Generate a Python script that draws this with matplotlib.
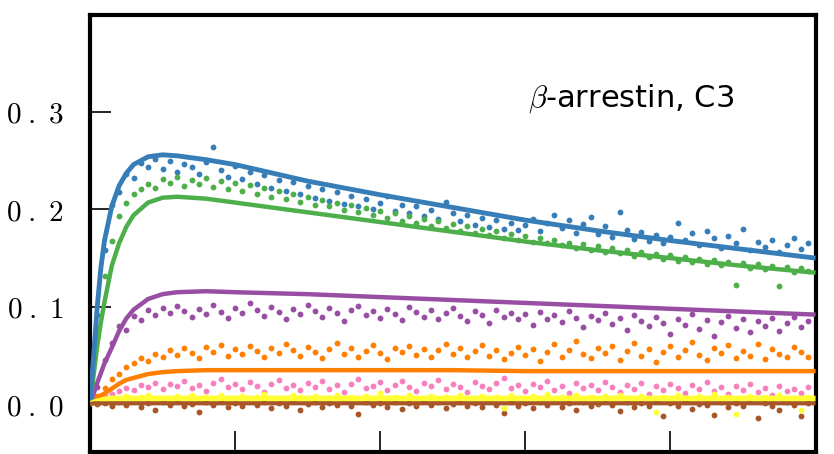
import numpy as np
import matplotlib.pyplot as plt

plt.rcParams['mathtext.fontset'] = 'cm'

# sample times of the measured points (regular sampling)
t = np.arange(1, 100) * 0.05

blue_pts = [0.092, 0.158, 0.205, 0.218, 0.236, 0.232, 0.248, 0.244, 0.252, 0.241,
            0.250, 0.238, 0.247, 0.244, 0.236, 0.249, 0.264, 0.240, 0.233, 0.245,
            0.231, 0.238, 0.226, 0.235, 0.222, 0.230, 0.219, 0.228, 0.216, 0.224,
            0.212, 0.221, 0.209, 0.218, 0.206, 0.214, 0.203, 0.211, 0.200, 0.207,
            0.214, 0.198, 0.205, 0.196, 0.203, 0.193, 0.199, 0.190, 0.208, 0.196,
            0.188, 0.194, 0.184, 0.191, 0.182, 0.189, 0.180, 0.186, 0.179, 0.184,
            0.190, 0.178, 0.186, 0.194, 0.181, 0.189, 0.176, 0.185, 0.192, 0.175,
            0.183, 0.172, 0.197, 0.179, 0.170, 0.177, 0.168, 0.174, 0.166, 0.172,
            0.186, 0.169, 0.176, 0.163, 0.178, 0.171, 0.160, 0.173, 0.165, 0.180,
            0.158, 0.167, 0.161, 0.169, 0.156, 0.163, 0.171, 0.159, 0.166]
green_pts = [0.068, 0.132, 0.168, 0.193, 0.207, 0.216, 0.221, 0.226, 0.222, 0.231,
             0.227, 0.233, 0.224, 0.230, 0.226, 0.232, 0.223, 0.229, 0.221, 0.227,
             0.219, 0.225, 0.216, 0.222, 0.213, 0.219, 0.211, 0.216, 0.208, 0.213,
             0.205, 0.210, 0.203, 0.207, 0.199, 0.204, 0.197, 0.201, 0.194, 0.198,
             0.191, 0.196, 0.188, 0.193, 0.186, 0.190, 0.183, 0.188, 0.181, 0.185,
             0.178, 0.183, 0.176, 0.180, 0.174, 0.178, 0.171, 0.175, 0.169, 0.173,
             0.167, 0.171, 0.165, 0.169, 0.163, 0.166, 0.160, 0.164, 0.158, 0.162,
             0.156, 0.160, 0.155, 0.158, 0.152, 0.156, 0.151, 0.154, 0.149, 0.153,
             0.147, 0.151, 0.146, 0.149, 0.144, 0.148, 0.143, 0.146, 0.122, 0.145,
             0.140, 0.144, 0.139, 0.142, 0.121, 0.141, 0.136, 0.140, 0.137]
purple_pts = [0.018, 0.045, 0.063, 0.080, 0.076, 0.091, 0.086, 0.097, 0.092, 0.099,
              0.094, 0.101, 0.096, 0.090, 0.098, 0.093, 0.102, 0.095, 0.089, 0.099,
              0.094, 0.104, 0.097, 0.091, 0.100, 0.095, 0.088, 0.098, 0.093, 0.102,
              0.096, 0.090, 0.099, 0.094, 0.085, 0.097, 0.101, 0.092, 0.096, 0.089,
              0.098, 0.093, 0.086, 0.100, 0.095, 0.090, 0.097, 0.088, 0.094, 0.099,
              0.091, 0.085, 0.096, 0.092, 0.083, 0.097, 0.090, 0.094, 0.087, 0.093,
              0.081, 0.095, 0.088, 0.092, 0.084, 0.096, 0.089, 0.079, 0.091, 0.086,
              0.094, 0.082, 0.089, 0.076, 0.092, 0.085, 0.080, 0.090, 0.083, 0.072,
              0.088, 0.081, 0.093, 0.077, 0.086, 0.070, 0.084, 0.091, 0.078, 0.087,
              0.074, 0.085, 0.080, 0.089, 0.075, 0.083, 0.090, 0.079, 0.085]
orange_pts = [0.008, 0.017, 0.026, 0.031, 0.038, 0.042, 0.047, 0.044, 0.052, 0.049,
              0.056, 0.051, 0.058, 0.053, 0.047, 0.059, 0.054, 0.061, 0.050, 0.057,
              0.052, 0.060, 0.055, 0.048, 0.058, 0.053, 0.062, 0.056, 0.050, 0.059,
              0.054, 0.047, 0.057, 0.063, 0.052, 0.058, 0.049, 0.055, 0.061, 0.053,
              0.046, 0.058, 0.054, 0.060, 0.051, 0.057, 0.049, 0.056, 0.062, 0.052,
              0.058, 0.048, 0.055, 0.061, 0.050, 0.056, 0.046, 0.053, 0.059, 0.051,
              0.057, 0.044, 0.054, 0.062, 0.049, 0.056, 0.065, 0.052, 0.047, 0.058,
              0.053, 0.060, 0.045, 0.055, 0.063, 0.050, 0.057, 0.043, 0.054, 0.060,
              0.048, 0.056, 0.064, 0.051, 0.045, 0.058, 0.053, 0.061, 0.047, 0.055,
              0.050, 0.062, 0.046, 0.057, 0.052, 0.049, 0.059, 0.054, 0.048]
pink_pts = [0.004, 0.008, 0.011, 0.014, 0.017, 0.015, 0.020, 0.018, 0.022, 0.016,
            0.021, 0.019, 0.024, 0.017, 0.020, 0.014, 0.022, 0.026, 0.018, 0.021,
            0.016, 0.023, 0.019, 0.013, 0.021, 0.025, 0.017, 0.020, 0.015, 0.022,
            0.018, 0.024, 0.016, 0.020, 0.013, 0.021, 0.026, 0.017, 0.019, 0.023,
            0.015, 0.020, 0.024, 0.018, 0.014, 0.022, 0.019, 0.025, 0.016, 0.021,
            0.018, 0.013, 0.023, 0.019, 0.016, 0.022, 0.027, 0.017, 0.020, 0.014,
            0.021, 0.018, 0.024, 0.015, 0.019, 0.012, 0.022, 0.017, 0.020, 0.015,
            0.023, 0.018, 0.013, 0.020, 0.016, 0.022, 0.011, 0.019, 0.015, 0.021,
            0.017, 0.012, 0.020, 0.016, 0.023, 0.014, 0.018, 0.011, 0.019, 0.015,
            0.021, 0.013, 0.017, 0.010, 0.019, 0.014, 0.016, 0.012, 0.018]
yellow_pts = [0.002, 0.004, 0.006, 0.005, 0.008, 0.004, 0.007, 0.009, 0.005, 0.006,
              0.003, 0.008, 0.006, 0.010, 0.004, 0.007, 0.005, 0.009, 0.002, 0.006,
              0.008, 0.004, 0.007, 0.011, 0.005, 0.006, 0.003, 0.009, 0.007, 0.005,
              0.008, 0.004, 0.006, 0.010, 0.003, 0.007, 0.005, 0.008, 0.006, 0.012,
              0.004, 0.007, 0.005, 0.009, 0.002, 0.006, 0.008, 0.004, 0.007, 0.005,
              0.010, 0.006, 0.003, 0.008, 0.005, 0.007, -0.004, 0.009, 0.006, 0.004,
              0.008, 0.005, 0.011, 0.003, 0.007, 0.006, 0.009, 0.004, 0.007, 0.002,
              0.008, 0.005, 0.010, 0.006, 0.003, 0.008, 0.005, -0.008, 0.007, 0.004,
              0.009, 0.006, 0.003, 0.008, 0.005, 0.011, 0.004, 0.007, -0.010, 0.006,
              0.008, 0.003, 0.007, 0.005, 0.009, 0.004, 0.006, -0.006, 0.007]
brown_pts = [0.000, 0.001, -0.002, 0.002, -0.001, 0.003, -0.003, 0.001, -0.006, 0.002,
             -0.001, 0.003, -0.002, 0.000, -0.008, 0.002, -0.001, 0.004, -0.003, 0.001,
             -0.002, 0.003, -0.001, 0.002, -0.004, 0.001, -0.002, 0.003, -0.006, 0.000,
             0.002, -0.003, 0.001, -0.001, 0.003, -0.002, -0.010, 0.002, -0.001, 0.001,
             -0.003, 0.002, -0.005, 0.001, -0.002, 0.003, -0.001, 0.002, -0.004, 0.000,
             0.002, -0.002, 0.001, -0.003, 0.003, -0.001, -0.009, 0.002, -0.002, 0.001,
             -0.004, 0.002, -0.001, 0.003, -0.003, 0.001, -0.006, 0.002, -0.002, 0.000,
             0.003, -0.001, -0.007, 0.002, -0.003, 0.001, -0.002, 0.003, -0.012, 0.001,
             -0.002, 0.002, -0.005, 0.000, -0.001, -0.011, 0.002, -0.003, 0.001, -0.002,
             0.003, -0.014, 0.001, -0.002, -0.006, 0.002, -0.001, -0.012, 0.001]

# fitted model curves
fit_t = [0, 0.025, 0.05, 0.075, 0.1, 0.15, 0.2, 0.25, 0.3, 0.4, 0.5,
         0.6, 0.8, 1.0, 1.5, 2.0, 2.5, 3.0, 3.5, 4.0, 4.5, 5.0]
blue_fit = [0, 0.05, 0.10, 0.14, 0.168, 0.203, 0.224, 0.237, 0.246, 0.254, 0.256,
            0.255, 0.251, 0.246, 0.229, 0.215, 0.202, 0.189, 0.178, 0.168, 0.159, 0.150]
green_fit = [0, 0.03, 0.06, 0.084, 0.105, 0.142, 0.165, 0.182, 0.194, 0.207, 0.212,
             0.213, 0.211, 0.207, 0.197, 0.187, 0.177, 0.167, 0.158, 0.150, 0.142, 0.135]
purple_fit = [0, 0.011, 0.022, 0.032, 0.042, 0.058, 0.075, 0.088, 0.097, 0.108, 0.113,
              0.115, 0.116, 0.115, 0.113, 0.110, 0.107, 0.104, 0.101, 0.098, 0.095, 0.092]
orange_fit = [0, 0.003, 0.006, 0.009, 0.011, 0.016, 0.021, 0.025, 0.027, 0.031, 0.033,
              0.034, 0.035, 0.035, 0.035, 0.035, 0.035, 0.034, 0.034, 0.034, 0.034, 0.034]
yellow_fit = [0, 0.002, 0.003, 0.004, 0.005, 0.006, 0.006, 0.006, 0.006, 0.006, 0.006,
              0.006, 0.006, 0.006, 0.006, 0.006, 0.006, 0.006, 0.006, 0.006, 0.006, 0.006]
brown_fit = [0, 0.001, 0.001, 0.001, 0.001, 0.001, 0.001, 0.001, 0.001, 0.001, 0.001,
             0.001, 0.001, 0.001, 0.001, 0.001, 0.001, 0.001, 0.001, 0.001, 0.001, 0.001]

yticks = [0.0, 0.1, 0.2, 0.3]
ytick_labels = [r'$0\;.\;0$', r'$0\;.\;1$', r'$0\;.\;2$', r'$0\;.\;3$']
xticks = [1, 2, 3, 4]

BLUE, GREEN, PURPLE = '#377eb8', '#4daf4a', '#984ea3'
ORANGE, YELLOW, BROWN, PINK = '#ff7f00', '#ffff33', '#a65628', '#f781bf'

fig = plt.figure(figsize=(8.34, 4.54), dpi=100)
ax = fig.add_axes([0.1079, 0.0044, 0.870, 0.9636])

# measured points
for pts, c in [(brown_pts, BROWN), (pink_pts, PINK), (yellow_pts, YELLOW),
               (orange_pts, ORANGE), (purple_pts, PURPLE),
               (blue_pts, BLUE), (green_pts, GREEN)]:
    ax.plot(t, pts, 'o', color=c, ms=4.2, mec='none', zorder=2)

# fits
for fit, c, w in [(orange_fit, ORANGE, 3.2), (purple_fit, PURPLE, 3.2),
                  (green_fit, GREEN, 3.2), (blue_fit, BLUE, 3.5),
                  (yellow_fit, YELLOW, 4.0), (brown_fit, BROWN, 3.0)]:
    ax.plot(fit_t, fit, '-', color=c, lw=w, zorder=3, solid_capstyle='butt')

ax.set_xlim(0, 5)
ax.set_ylim(-0.049, 0.40)
ax.set_xticks(xticks)
ax.set_xticklabels([])
ax.set_yticks(yticks)
ax.set_yticklabels(ytick_labels, fontsize=21)
ax.tick_params(direction='in', length=15, width=1.2, pad=19)
for s in ax.spines.values():
    s.set_linewidth(3)

ax.text(0.604, 0.789, r'$\beta$-arrestin, C3', transform=ax.transAxes,
        fontsize=22, family='DejaVu Sans', va='baseline', ha='left')

plt.savefig('out.png', dpi=100)
